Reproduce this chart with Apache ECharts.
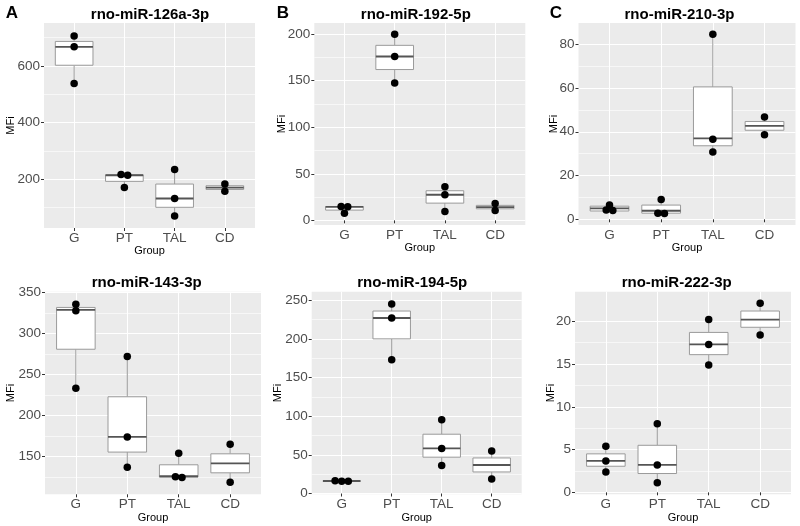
<!DOCTYPE html>
<html>
<head>
<meta charset="utf-8">
<script src="https://cdn.jsdelivr.net/npm/echarts@6/dist/echarts.min.js"></script>
<style>html,body{margin:0;padding:0;background:#fff}#c{width:800px;height:526px}</style>
</head>
<body>
<div id="c"></div>
<script>
// ---------- data ----------
const categories = ['G', 'PT', 'TAL', 'CD'];

const titles = ['rno-miR-126a-3p', 'rno-miR-192-5p', 'rno-miR-210-3p',
                'rno-miR-143-3p', 'rno-miR-194-5p', 'rno-miR-222-3p'];
const panelLetters = ['A', 'B', 'C', '', '', ''];

// individual measurements per group (G, PT, TAL, CD)
const pts126a = [[705, 667, 538], [216.5, 214, 171], [234, 132, 70], [183, 158]];
const pts192  = [[15, 14.5, 7.5], [200, 176, 147.5], [36, 27.5, 9.5], [18, 10.5]];
const pts210  = [[6.5, 4.2, 4.0], [9.1, 2.8, 2.7], [84.6, 36.6, 30.7], [46.8, 38.6]];
const pts143  = [[336, 328, 233.5], [272, 174, 137], [154, 125.5, 124.5], [165, 118.6]];
const pts194  = [[16.5, 16, 16], [245, 227, 173], [95.3, 58.3, 36.3], [55, 18.8]];
const pts222  = [[5.4, 3.67, 2.38], [8.03, 3.2, 1.12], [20.2, 17.3, 14.9], [22.1, 18.4]];

// side-by-side stacking slot of each dot (dot widths)
const dodge126a = [[0, 0, 0], [-0.5, 0.5, 0], [0, 0, 0], [0, 0]];
const dodge192  = [[-0.5, 0.5, 0], [0, 0, 0], [0, 0, 0], [0, 0]];
const dodge210  = [[0, -0.5, 0.5], [0, -0.5, 0.5], [0, 0, 0], [0, 0]];
const dodge143  = [[0, 0, 0], [0, 0, 0], [0, -0.5, 0.5], [0, 0]];
const dodge194  = [[-1, 0, 1], [0, 0, 0], [0, 0, 0], [0, 0]];
const dodge222  = [[0, 0, 0], [0, 0, 0], [0, 0, 0], [0, 0]];

// box statistics per group: [lower whisker, Q1, median, Q3, upper whisker]
const box126a = [[538, 602, 667, 686, 705], [171, 192.5, 214, 215.3, 216.5], [70, 101, 132, 183, 234], [158, 164, 170.5, 177, 183]];
const box192  = [[7.5, 11, 14.5, 14.8, 15], [147.5, 162, 176, 188, 200], [9.5, 18.5, 27.5, 31.8, 36], [10.5, 12.4, 14.3, 16.1, 18]];
const box210  = [[3.8, 3.8, 5.0, 6.0, 6.5], [2.7, 2.8, 3.9, 6.5, 9.1], [30.7, 33.6, 37, 60.5, 84.6], [38.6, 40.7, 42.7, 44.7, 46.8]];
const box143  = [[233.5, 281, 329, 332, 336], [137, 155.5, 174, 223, 272], [124.5, 125, 126, 140, 154], [118.6, 130.2, 141.8, 153.4, 165]];
const box194  = [[16, 16, 16.2, 16.3, 16.5], [173, 200, 227, 236, 245], [36.3, 47, 58.3, 76.7, 95.3], [18.8, 27.9, 36.9, 46, 55]];
const box222  = [[2.38, 3.05, 3.67, 4.5, 5.4], [1.12, 2.2, 3.2, 5.5, 8.03], [14.9, 16.1, 17.3, 18.7, 20.2], [18.4, 19.3, 20.2, 21.2, 22.1]];

// y-axis tick values
const ticks126a = [200, 400, 600];
const ticks192  = [0, 50, 100, 150, 200];
const ticks210  = [0, 20, 40, 60, 80];
const ticks143  = [150, 200, 250, 300, 350];
const ticks194  = [0, 50, 100, 150, 200, 250];
const ticks222  = [0, 5, 10, 15, 20];
const minor126a = [100, 300, 500, 700];
const minor192  = [25, 75, 125, 175];
const minor210  = [10, 30, 50, 70];
const minor143  = [125, 175, 225, 275, 325];
const minor194  = [25, 75, 125, 175, 225];
const minor222  = [2.5, 7.5, 12.5, 17.5];
// y-axis ranges
const yRange126a = [28, 751];
const yRange192  = [-5, 212];
const yRange210  = [-2.6, 89.7];
const yRange143  = [104, 351.2];
const yRange194  = [-1, 261];
const yRange222  = [-0.23, 23.46];

// ---------- layout ----------
const grids = [
  {left: 44,    top: 23,    width: 211, height: 205},
  {left: 314.3, top: 23,    width: 211, height: 202},
  {left: 578.5, top: 23,    width: 217, height: 202},
  {left: 45,    top: 291.7, width: 216, height: 202.6},
  {left: 311.7, top: 291.7, width: 210, height: 202.6},
  {left: 575,   top: 291.7, width: 216, height: 202.6}
];
const yNameGap = [27.5, 27, 19, 28.5, 28, 18.8];
const titlePos = [[150, 15], [415.8, 15], [679.5, 15], [146.7, 283.3], [412.2, 283.3], [676.7, 283.3]];
const letterPos = [[12, 13.5], [283, 13.5], [556, 13.5]];

const panels = [
  {pts: pts126a, dodge: dodge126a, box: box126a, ticks: ticks126a, minor: minor126a, yr: yRange126a},
  {pts: pts192,  dodge: dodge192,  box: box192,  ticks: ticks192,  minor: minor192,  yr: yRange192},
  {pts: pts210,  dodge: dodge210,  box: box210,  ticks: ticks210,  minor: minor210,  yr: yRange210},
  {pts: pts143,  dodge: dodge143,  box: box143,  ticks: ticks143,  minor: minor143,  yr: yRange143},
  {pts: pts194,  dodge: dodge194,  box: box194,  ticks: ticks194,  minor: minor194,  yr: yRange194},
  {pts: pts222,  dodge: dodge222,  box: box222,  ticks: ticks222,  minor: minor222,  yr: yRange222}
];

const FONT = '"Liberation Sans", Arial, sans-serif';
const catPos = categories.map((c, i) => i + 1);
const DOT = 6.6;

const option = {
  animation: false,
  backgroundColor: '#ffffff',
  grid: [], xAxis: [], yAxis: [], series: [], graphic: []
};

panels.forEach((p, k) => {
  option.grid.push(Object.assign({show: true, backgroundColor: '#EBEBEB', borderWidth: 0}, grids[k]));
  option.xAxis.push({
    type: 'value', gridIndex: k, min: 0.4, max: 4.6,
    axisLine: {show: false},
    axisTick: {show: true, customValues: catPos, length: 3, lineStyle: {color: '#333333', width: 1}},
    axisLabel: {customValues: catPos, formatter: v => categories[Math.round(v) - 1],
                fontFamily: FONT, fontSize: 13.5, color: '#4D4D4D', margin: 3},
    splitLine: {show: true, lineStyle: {color: '#FFFFFF', width: 1.1}},
    name: 'Group', nameLocation: 'middle', nameGap: 15,
    nameTextStyle: {fontFamily: FONT, fontSize: 11, color: '#000000'}
  });
  option.yAxis.push({
    type: 'value', gridIndex: k, min: p.yr[0], max: p.yr[1],
    axisLine: {show: false},
    axisTick: {show: true, customValues: p.ticks, length: 3, lineStyle: {color: '#333333', width: 1}},
    axisLabel: {customValues: p.ticks, fontFamily: FONT, fontSize: 13.5, color: '#4D4D4D', margin: 4},
    splitLine: {show: true, lineStyle: {color: '#FFFFFF', width: 1.1}},
    name: 'MFi', nameLocation: 'middle', nameGap: yNameGap[k], nameMoveOverlap: false,
    nameTextStyle: {fontFamily: FONT, fontSize: 11, color: '#000000'}
  });
  // minor grid lines
  option.yAxis.push({
    type: 'value', gridIndex: k, min: p.yr[0], max: p.yr[1], position: 'right',
    axisLine: {show: false},
    axisTick: {show: false, customValues: p.minor},
    axisLabel: {show: false, customValues: p.minor},
    splitLine: {show: true, lineStyle: {color: '#FFFFFF', width: 0.6}}
  });
  const yi = option.yAxis.length - 2;

  const boxData = p.box.map((b, i) => [i + 1].concat(b));
  option.series.push({
    type: 'custom', xAxisIndex: k, yAxisIndex: yi, z: 2,
    data: boxData,
    renderItem: (params, api) => {
      const x = api.value(0);
      const lo = api.coord([x, api.value(1)]);
      const q1 = api.coord([x, api.value(2)]);
      const md = api.coord([x, api.value(3)]);
      const q3 = api.coord([x, api.value(4)]);
      const hi = api.coord([x, api.value(5)]);
      const half = api.size([0.75, 0])[0] / 2;
      const cx = q1[0];
      return {
        type: 'group',
        children: [
          {type: 'line', shape: {x1: cx, y1: hi[1], x2: cx, y2: q3[1]}, style: {stroke: '#9A9A9A', lineWidth: 1}},
          {type: 'line', shape: {x1: cx, y1: q1[1], x2: cx, y2: lo[1]}, style: {stroke: '#9A9A9A', lineWidth: 1}},
          {type: 'rect', shape: {x: cx - half, y: q3[1], width: half * 2, height: q1[1] - q3[1]},
           style: {fill: '#FFFFFF', stroke: '#9A9A9A', lineWidth: 1}},
          {type: 'line', shape: {x1: cx - half, y1: md[1], x2: cx + half, y2: md[1]},
           style: {stroke: '#555555', lineWidth: 1.8}}
        ]
      };
    }
  });

  const dots = [];
  p.pts.forEach((arr, i) => arr.forEach((v, j) => {
    dots.push({value: [i + 1, v], symbolOffset: [p.dodge[i][j] * DOT, 0]});
  }));
  option.series.push({
    type: 'scatter', xAxisIndex: k, yAxisIndex: yi, z: 3,
    symbol: 'circle', symbolSize: 7.5, itemStyle: {color: '#000000', opacity: 1},
    emphasis: {disabled: true},
    data: dots
  });

  option.graphic.push({
    type: 'text', x: titlePos[k][0], y: titlePos[k][1],
    style: {text: titles[k], font: 'bold 15px ' + FONT, fill: '#000000', align: 'center', verticalAlign: 'middle'}
  });
  if (panelLetters[k]) {
    option.graphic.push({
      type: 'text', x: letterPos[k][0], y: letterPos[k][1],
      style: {text: panelLetters[k], font: 'bold 17px ' + FONT, fill: '#000000', align: 'center', verticalAlign: 'middle'}
    });
  }
});

const chart = echarts.init(document.getElementById('c'), null, {renderer: 'canvas'});
chart.setOption(option);
</script>
</body>
</html>
